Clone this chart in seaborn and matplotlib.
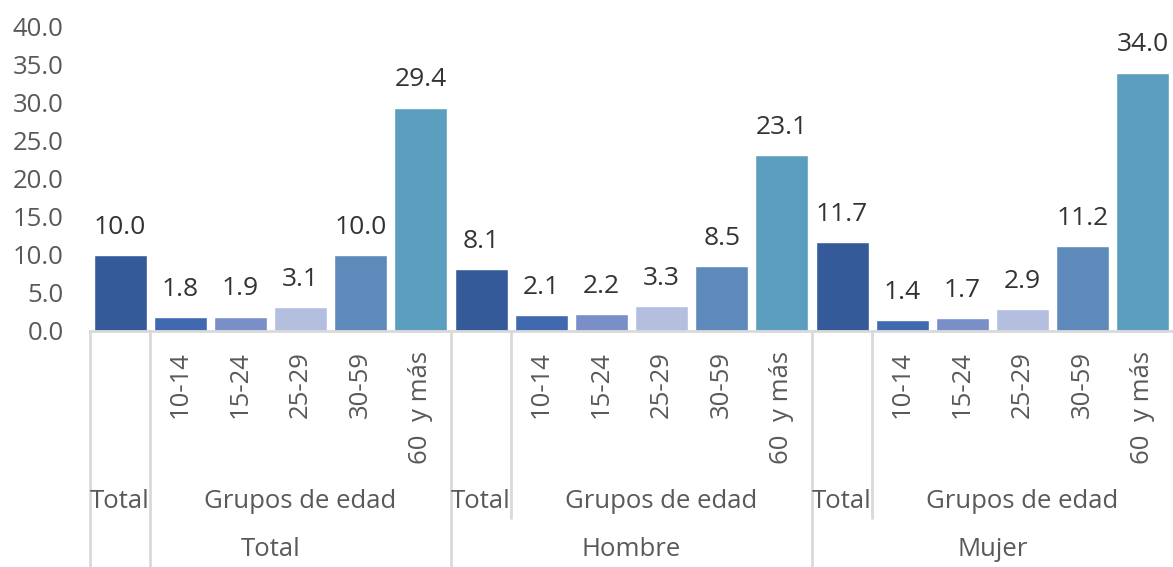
import matplotlib
matplotlib.use('Agg')
import matplotlib.pyplot as plt
import seaborn as sns
import pandas as pd

# Datos
sexos = ['Total', 'Hombre', 'Mujer']
categorias = ['Total', '10-14', '15-24', '25-29', '30-59', '60  y más']
valores_total = [10.0, 1.8, 1.9, 3.1, 10.0, 29.4]
valores_hombre = [8.1, 2.1, 2.2, 3.3, 8.5, 23.1]
valores_mujer = [11.7, 1.4, 1.7, 2.9, 11.2, 34.0]
yticks = [0, 5, 10, 15, 20, 25, 30, 35, 40]

colores = ['#345a9a', '#4169b0', '#7a8fc8', '#b4bfe0', '#5d8aba', '#5c9ebd']

filas = []
for sexo, vals in zip(sexos, [valores_total, valores_hombre, valores_mujer]):
    for cat, v in zip(categorias, vals):
        filas.append({'pos': f'{sexo}|{cat}', 'sexo': sexo, 'cat': cat, 'valor': v})
df = pd.DataFrame(filas)

sns.set_theme(style='white')
plt.rcParams['font.family'] = ['Open Sans', 'DejaVu Sans']

fs = 18.5
gris_txt = '#595959'

fig = plt.figure(figsize=(11.73, 5.67), dpi=100)
ax = fig.add_axes([90 / 1173, 236 / 567, 1083 / 1173, 304 / 567])

sns.barplot(data=df, x='pos', y='valor', hue='cat', order=df['pos'].tolist(),
            hue_order=categorias, palette=colores, dodge=False, width=0.88,
            legend=False, ax=ax, saturation=1)

for cont in ax.containers:
    ax.bar_label(cont, fmt='%.1f', padding=11, fontsize=19, color='#333333',
                 fontweight=500)

ax.set_ylim(0, 40)
ax.set_xlim(-0.5, len(df) - 0.5)
ax.set_yticks(yticks)
ax.set_yticklabels([f'{t:.1f}' for t in yticks], fontsize=fs, color=gris_txt)
ax.tick_params(axis='y', length=0, pad=19)
ax.set_xticks([])
ax.set_xlabel('')
ax.set_ylabel('')
for s in ['top', 'right', 'left']:
    ax.spines[s].set_visible(False)
ax.spines['bottom'].set_color('#d9d9d9')
ax.spines['bottom'].set_linewidth(2)

# Ejes jerárquicos debajo
tr = ax.get_xaxis_transform()
h = 304.0
gris = '#d9d9d9'
n = len(categorias)
for g, sexo in enumerate(sexos):
    x0 = g * n - 0.5
    ax.plot([x0, x0], [0, -236 / h], transform=tr, color=gris, lw=2, clip_on=False)
    ax.plot([x0 + 1, x0 + 1], [0, (-236 if g == 0 else -187) / h], transform=tr,
            color=gris, lw=2, clip_on=False)
    ax.text(g * n, -171 / h, 'Total', transform=tr, ha='center', va='center',
            fontsize=fs, color=gris_txt)
    for i, cat in enumerate(categorias[1:], start=1):
        ax.text(g * n + i, -20 / h, cat, transform=tr, rotation=90, ha='center',
                va='top', fontsize=fs, color=gris_txt)
    ax.text(g * n + 3, -171 / h, 'Grupos de edad', transform=tr, ha='center',
            va='center', fontsize=fs, color=gris_txt)
    ax.text(g * n + 2.5, -219 / h, sexo, transform=tr, ha='center', va='center',
            fontsize=fs, color=gris_txt)

fig.savefig('out.png', dpi=100)
